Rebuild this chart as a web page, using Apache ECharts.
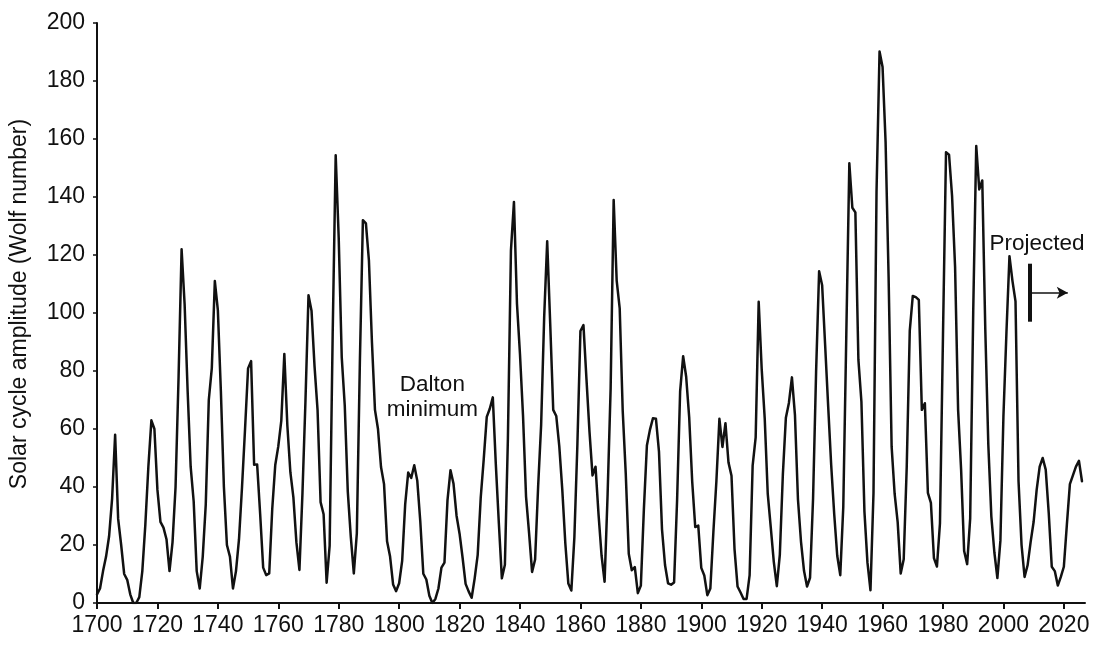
<!DOCTYPE html>
<html>
<head>
<meta charset="utf-8">
<title>Solar cycle amplitude</title>
<script src="https://cdn.jsdelivr.net/npm/echarts@6/dist/echarts.min.js"></script>
<style>
  html, body { margin: 0; padding: 0; background: #ffffff; }
  #chart { width: 1097px; height: 648px; }
</style>
</head>
<body>
<div id="chart"></div>
<script>
// Yearly Wolf (sunspot) number, one value per year starting at startYear.
// Values after 2004 are the projected cycles.
const startYear = 1700;
const wolf = [
  3,
  5, 11, 16, 23, 36, 58, 29, 20, 10, 8, 3, 0, 0,
  2, 11, 27, 47, 63, 60, 39, 28, 26, 22, 11, 21, 40, 78, 122, 103, 73, 47, 35, 11,
  5, 16, 34, 70, 81, 111, 101, 73, 40, 20, 16, 5, 11, 22, 40, 60, 80.9, 83.4, 47.7, 47.8,
  30.7, 12.2, 9.6, 10.2, 32.4, 47.6, 54.0, 62.9, 85.9, 61.2, 45.1, 36.4, 20.9, 11.4, 37.8, 69.8, 106.1, 100.8, 81.6, 66.5,
  34.8, 30.6, 7.0, 19.8, 92.5, 154.4, 125.9, 84.8, 68.1, 38.5, 22.8, 10.2, 24.1, 82.9, 132.0, 130.9, 118.1, 89.9, 66.6, 60.0,
  46.9, 41.0, 21.3, 16.0, 6.4, 4.1, 6.8, 14.5, 34.0, 45.0, 43.1, 47.5, 42.2, 28.1, 10.1, 8.1, 2.5, 0.0, 1.4, 5.0,
  12.2, 13.9, 35.4, 45.8, 41.1, 30.1, 23.9, 15.6, 6.6, 4.0, 1.8, 8.5, 16.6, 36.3, 49.6, 64.2, 67.0, 70.9, 47.8, 27.5,
  8.5, 13.2, 56.9, 121.5, 138.3, 103.2, 85.7, 64.6, 36.7, 24.2, 10.7, 15.0, 40.1, 61.5, 98.5, 124.7, 96.3, 66.6, 64.5, 54.1,
  39.0, 20.6, 6.7, 4.3, 22.7, 54.8, 93.8, 95.8, 77.2, 59.1, 44.0, 47.0, 30.5, 16.3, 7.3, 37.6, 74.0, 139.0, 111.2, 101.6,
  66.2, 44.7, 17.0, 11.3, 12.4, 3.4, 6.0, 32.3, 54.3, 59.7, 63.7, 63.5, 52.2, 25.4, 13.1, 6.8, 6.3, 7.1, 35.6, 73.0,
  85.1, 78.0, 64.0, 41.8, 26.2, 26.7, 12.1, 9.5, 2.7, 5.0, 24.4, 42.0, 63.5, 53.8, 62.0, 48.5, 43.9, 18.6, 5.7, 3.6,
  1.4, 1.4,
  9.6, 47.4, 57.1, 103.9, 80.6, 63.6, 37.6, 26.1, 14.2, 5.8, 16.7, 44.3, 63.9, 69.0, 77.8, 64.9, 35.7, 21.2, 11.1, 5.7,
  8.7, 36.1, 79.7, 114.4, 109.6, 88.8, 67.8, 47.5, 30.6, 16.3, 9.6, 33.2, 92.6, 151.6, 136.3, 134.7, 83.9, 69.4, 31.5, 13.9,
  4.4, 38.0, 141.7, 190.2, 184.8, 159.0, 112.3, 53.9, 37.6, 27.9, 10.2, 15.1, 47.0, 93.8, 105.9, 105.5, 104.5, 66.6, 68.9, 38.0,
  34.5, 15.5, 12.6, 27.5, 92.5, 155.4, 154.6, 140.4, 115.9, 66.6, 45.9, 17.9, 13.4, 29.2, 100.2, 157.6, 142.6, 145.7, 94.3, 54.6,
  29.9, 17.5, 8.6, 21.5, 64.3, 93.3, 119.6, 111.0, 104.0,
  42, 20, 9, 13, 21, 28, 39, 47, 50, 46, 31, 12.5, 11, 6, 9, 12.5, 27, 41, 44, 47, 49, 42
];

const yearTicks = [1700, 1720, 1740, 1760, 1780, 1800, 1820, 1840, 1860, 1880,
                   1900, 1920, 1940, 1960, 1980, 2000, 2020];
const valueTicks = [0, 20, 40, 60, 80, 100, 120, 140, 160, 180, 200];

const yTitle = 'Solar cycle amplitude (Wolf number)';
const noteDalton = 'Dalton\nminimum';
const noteProjected = 'Projected';

const years = wolf.map((_, i) => startYear + i);
const points = years.map((y, i) => [y, wolf[i]]);

const FONT = '"Liberation Sans", Arial, Helvetica, sans-serif';
const INK = '#111111';

const chart = echarts.init(document.getElementById('chart'), null, { renderer: 'canvas' });

const noteLabel = {
  show: true,
  position: 'inside',
  color: INK,
  fontFamily: FONT,
  fontSize: 22.5,
  lineHeight: 25,
  align: 'center'
};

chart.setOption({
  animation: false,
  backgroundColor: '#ffffff',
  grid: { left: 97, right: 12, top: 23, bottom: 45 },
  xAxis: {
    type: 'value',
    min: 1700,
    max: 2027,
    interval: 20,
    splitLine: { show: false },
    axisLine: { show: true, onZero: false, lineStyle: { color: INK, width: 2 } },
    axisTick: { show: true, inside: false, length: 6, customValues: yearTicks,
                lineStyle: { color: INK, width: 2 } },
    axisLabel: {
      customValues: yearTicks,
      formatter: v => String(v),
      color: INK, fontFamily: FONT, fontSize: 23, margin: 11
    }
  },
  yAxis: {
    type: 'value',
    min: 0,
    max: 200,
    interval: 20,
    name: yTitle,
    nameLocation: 'middle',
    nameRotate: 90,
    nameGap: 66,
    nameTextStyle: { color: INK, fontFamily: FONT, fontSize: 23, padding: [0, 0, 0, 18] },
    splitLine: { show: false },
    axisLine: { show: true, lineStyle: { color: INK, width: 2 } },
    axisTick: { show: true, inside: false, length: 4, customValues: valueTicks,
                lineStyle: { color: INK, width: 1.5 } },
    axisLabel: {
      customValues: valueTicks,
      color: INK, fontFamily: FONT, fontSize: 23, margin: 12
    }
  },
  series: [{
    type: 'line',
    data: points,
    symbol: 'none',
    silent: true,
    lineStyle: { color: INK, width: 2.5, join: 'round', cap: 'round' },
    markLine: {
      silent: true,
      symbol: 'none',
      label: { show: false },
      lineStyle: { color: INK, type: 'solid' },
      data: [
        [ { coord: [2008.7, 97], lineStyle: { width: 4 } }, { coord: [2008.7, 117] } ],
        [ { coord: [2009.2, 107], symbol: 'none', lineStyle: { width: 1.6 } },
          { coord: [2021.3, 107], symbol: 'arrow', symbolSize: [9, 11] } ]
      ]
    },
    markPoint: {
      silent: true,
      symbol: 'circle',
      symbolSize: 1,
      itemStyle: { color: 'rgba(0,0,0,0)' },
      label: noteLabel,
      data: [
        { coord: [1811, 71], label: Object.assign({}, noteLabel, { formatter: noteDalton }) },
        { coord: [2011.1, 124], label: Object.assign({}, noteLabel, { formatter: noteProjected }) }
      ]
    }
  }]
});
</script>
</body>
</html>
